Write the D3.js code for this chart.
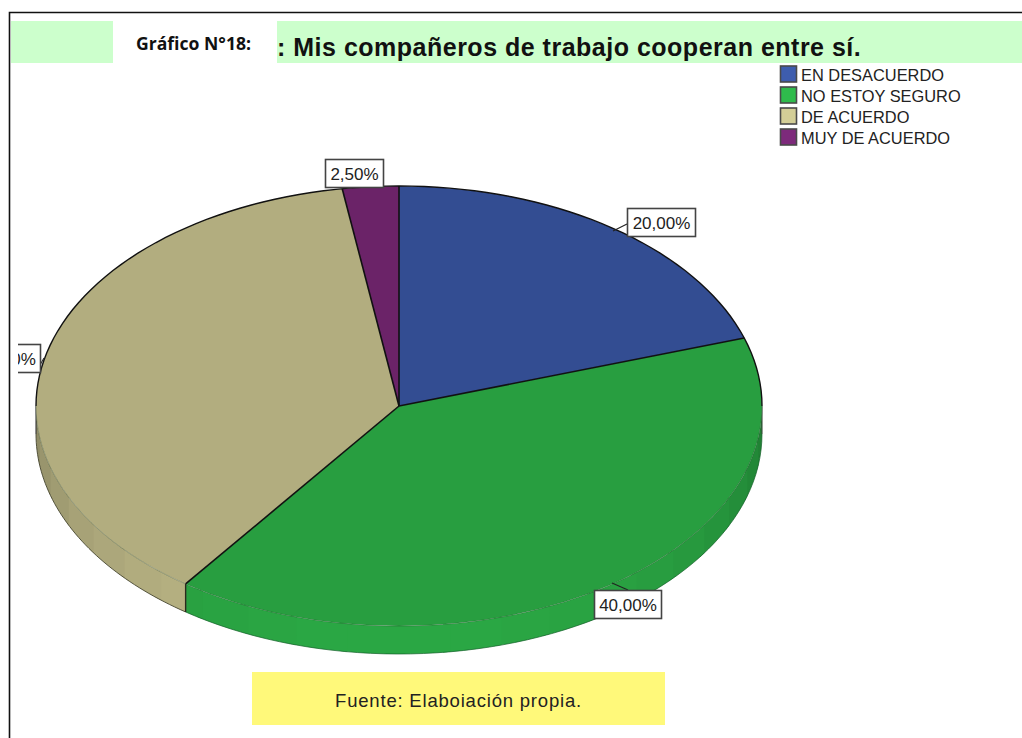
<!DOCTYPE html>
<html><head><meta charset="utf-8">
<script src="https://cdn.jsdelivr.net/npm/d3@7"></script>
<style>html,body{margin:0;padding:0;background:#fff}svg{display:block}</style>
</head><body><svg id="c" width="1022" height="738"></svg>
<script>
const categories=["EN DESACUERDO","NO ESTOY SEGURO","DE ACUERDO","MUY DE ACUERDO"];
const values=[20,40,37.5,2.5];
const labels=["20,00%","40,00%","37,50%","2,50%"];
const topColors=["#334D92","#289E40","#B2AD7F","#6B2368"];
const legendColors=["#3E5DAE","#2FBB4C","#D3CE97","#7D2A7B"];
const titleText=": Mis compañeros de trabajo cooperan entre sí.";
const chartLabel="Gráfico N°18:";
const sourceText="Fuente: Elaboiación propia.";

const W=1022,H=738,cx=399,cy=406,rx=363,ry=220,depth=28;
const svg=d3.select("#c");
const defs=svg.append("defs");
defs.append("clipPath").attr("id","lc").append("rect").attr("x",18).attr("y",0).attr("width",W).attr("height",H);
const sans="'Liberation Sans',Arial,sans-serif";

// frame
svg.append("path").attr("d",`M${W} 12.5H9.5V${H}`).attr("fill","none").attr("stroke","#111").attr("stroke-width",1.6);
// title bands
svg.append("rect").attr("x",11).attr("y",21).attr("width",102).attr("height",42).attr("fill","#CCFFCC");
svg.append("rect").attr("x",277).attr("y",21).attr("width",745).attr("height",42).attr("fill","#CCFFCC");
svg.append("text").attr("x",136).attr("y",50).attr("font-family","'Open Sans',sans-serif").attr("font-weight",700).attr("font-size",17.6).attr("fill","#111").text(chartLabel);
svg.append("text").attr("x",277).attr("y",56).attr("font-family",sans).attr("font-weight",700).attr("font-size",25).attr("letter-spacing",0.5).attr("fill","#111").text(titleText);

const pieGen=d3.pie().value(d=>d).sort(null);
const arcs=pieGen(values);
const px=a=>cx+rx*Math.sin(a), py=a=>cy-ry*Math.cos(a);
const samples=(u,v,n)=>d3.range(n+1).map(t=>u+(v-u)*t/n);
const ell=d3.line().x(a=>px(a)).y(a=>py(a));
const ellLow=d3.line().x(a=>px(a)).y(a=>py(a)+depth);

// side wall, faceted, visible half only
const wall=svg.append("g");
const step=Math.PI/22;
arcs.forEach((s,i)=>{
  const a0=Math.max(s.startAngle,Math.PI/2),a1=Math.min(s.endAngle,Math.PI*1.5);
  if(a1<=a0)return;
  const base=d3.color(topColors[i]);
  const k0=Math.ceil(a0/step),k1=Math.floor(a1/step);
  const edges=[a0,...d3.range(k0,k1+1).map(k=>k*step),a1];
  d3.pairs(edges).forEach(([u,v])=>{
    if(v-u<1e-6)return;
    const m=(u+v)/2;
    const f=0.78+0.28*Math.pow(Math.max(0,Math.cos(m-Math.PI)),0.8);
    const col=d3.rgb(base.r*f,base.g*f,base.b*f);
    const pts=samples(u,v+step*0.15>a1?v:v+step*0.15,5);
    const top=pts.map(a=>[px(a),py(a)]);
    const bot=pts.slice().reverse().map(a=>[px(a),py(a)+depth]);
    wall.append("path").attr("d",d3.line()([...top,...bot])+"Z").attr("fill",col);
  });
});
// lower wall edge
const tan=arcs[2];
svg.append("path").attr("d",ellLow(samples(Math.PI/2,tan.startAngle,60))).attr("fill","none").attr("stroke","#14602a").attr("stroke-width",0.7);
svg.append("path").attr("d",ellLow(samples(tan.startAngle,Math.PI*1.5,50))).attr("fill","none").attr("stroke","#45452f").attr("stroke-width",0.9);
svg.append("line").attr("x1",px(tan.startAngle)).attr("y1",py(tan.startAngle)).attr("x2",px(tan.startAngle)).attr("y2",py(tan.startAngle)+depth).attr("stroke","#2a2a1e").attr("stroke-width",1.4);
[[Math.PI*1.5,"#333"],[Math.PI/2,"#3a4a3a"]].forEach(([a,c])=>{
  svg.append("line").attr("x1",px(a)).attr("y1",cy).attr("x2",px(a)).attr("y2",cy+depth).attr("stroke",c).attr("stroke-width",1.1);
});

// top face
const arcGen=d3.arc().innerRadius(0).outerRadius(rx);
const topG=svg.append("g").attr("transform",`translate(${cx},${cy}) scale(1,${ry/rx})`);
topG.selectAll("path").data(arcs).join("path")
  .attr("d",arcGen).attr("fill",(d,i)=>topColors[i]);
// faint front rim, dark back rim, dark radial edges
svg.append("path").attr("d",ell(samples(Math.PI/2,Math.PI*1.5,90))).attr("fill","none").attr("stroke","#1c3a20").attr("stroke-width",0.7).attr("stroke-opacity",0.45);
svg.append("path").attr("d",ell(samples(-Math.PI/2,Math.PI/2,90))).attr("fill","none").attr("stroke","#111").attr("stroke-width",1.4);
arcs.forEach(s=>{
  svg.append("line").attr("x1",cx).attr("y1",cy).attr("x2",px(s.startAngle)).attr("y2",py(s.startAngle)).attr("stroke","#111").attr("stroke-width",1.6);
});

// leader lines and label boxes
const boxes=[
 {x:627,y:208,w:68,h:28,lx:[[613,231],[627,224]]},
 {x:594,y:590,w:67,h:28,lx:[[612,583],[628,590]]},
 {x:-27,y:344,w:67,h:28,lx:[[40,365],[44,358]]},
 {x:325,y:159,w:58,h:28,lx:null}
];
boxes.forEach((b,i)=>{
  if(b.lx)svg.append("path").attr("d",d3.line()(b.lx)).attr("fill","none").attr("stroke","#222").attr("stroke-width",1.1);
  const g=svg.append("g").attr("clip-path","url(#lc)");
  g.append("rect").attr("x",b.x+.5).attr("y",b.y+.5).attr("width",b.w).attr("height",b.h).attr("fill","#fff").attr("stroke","#444").attr("stroke-width",1.6);
  g.append("text").attr("x",b.x+b.w/2+.5).attr("y",b.y+b.h/2+6.5).attr("text-anchor","middle").attr("font-family",sans).attr("font-size",17).attr("fill","#222").text(labels[i]);
});

// legend
const ly=d3.scalePoint().domain(categories).range([75,138]);
categories.forEach((c,i)=>{
  const y=ly(c);
  svg.append("rect").attr("x",780.5).attr("y",y-9).attr("width",16).attr("height",16).attr("fill",legendColors[i]).attr("stroke","#4a4a4a").attr("stroke-width",1.6);
  svg.append("text").attr("x",801).attr("y",y+5.5).attr("font-family",sans).attr("font-size",16.4).attr("fill","#222").text(c);
});

// source
svg.append("rect").attr("x",252).attr("y",672).attr("width",413).attr("height",53).attr("fill","#FFF97A");
svg.append("text").attr("x",458.5).attr("y",706.5).attr("text-anchor","middle").attr("font-family",sans).attr("font-size",18.5).attr("letter-spacing",0.8).attr("fill","#222").text(sourceText);
</script></body></html>
